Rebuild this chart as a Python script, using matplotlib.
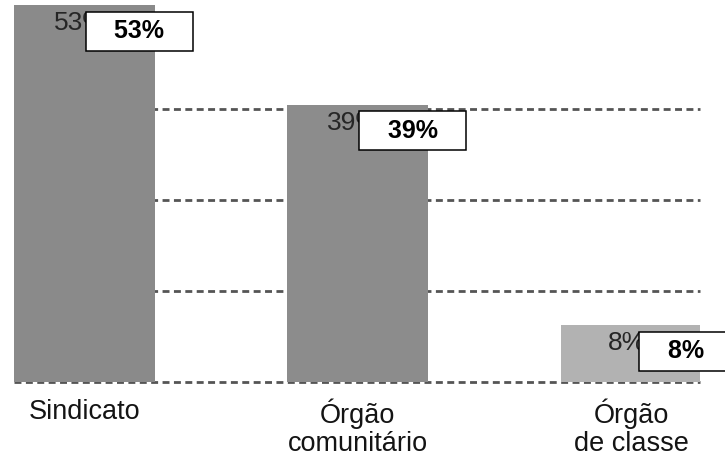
import matplotlib.pyplot as plt

plt.rcParams['font.family'] = ['Liberation Sans', 'DejaVu Sans']

# data
categories = ["Sindicato", "Órgão\ncomunitário", "Órgão\nde classe"]
values = [53, 39, 8]
bar_colors = ["#8a8a8a", "#8c8c8c", "#b2b2b2"]
grid_levels = [12.8, 25.6, 38.4]

fig = plt.figure(figsize=(7.25, 4.59), dpi=100)
ax = fig.add_axes([14 / 725, 1 - 382 / 459, 686 / 725, 377 / 459])

x = list(range(len(values)))
ax.bar(x, values, width=0.515, color=bar_colors, zorder=3)

# dashed guide lines behind the bars
for g in [0] + grid_levels:
    ax.axhline(g, color="#555555", lw=2, dashes=(2.5, 1.6), zorder=1, clip_on=False)

ax.set_xlim(-0.258, 2.2525)
ax.set_ylim(0, 53)

# old (scanned) value labels, partly covered
for xi, v in zip(x, values):
    ax.annotate(f"{v}%", (xi, v), xytext=(-4, -18), textcoords="offset pixels",
                ha="center", va="center", fontsize=19, color="#262626",
                zorder=4, annotation_clip=False)

# new boxed labels on top
for xi, v in zip(x, values):
    ax.annotate(f"   {v}%   ", (xi, v), xytext=(55, -26), textcoords="offset pixels",
                ha="center", va="center", fontsize=18, fontweight="bold",
                color="black", zorder=5, annotation_clip=False,
                bbox=dict(boxstyle="square,pad=0.3", fc="white", ec="black", lw=1.1))

ax.set_xticks(x)
ax.set_xticklabels(categories, fontsize=19.5, color="#141414", linespacing=1.08)
ax.tick_params(axis="x", length=0, pad=12)
ax.set_yticks([])
for s in ax.spines.values():
    s.set_visible(False)

fig.savefig("out.png", dpi=100)
